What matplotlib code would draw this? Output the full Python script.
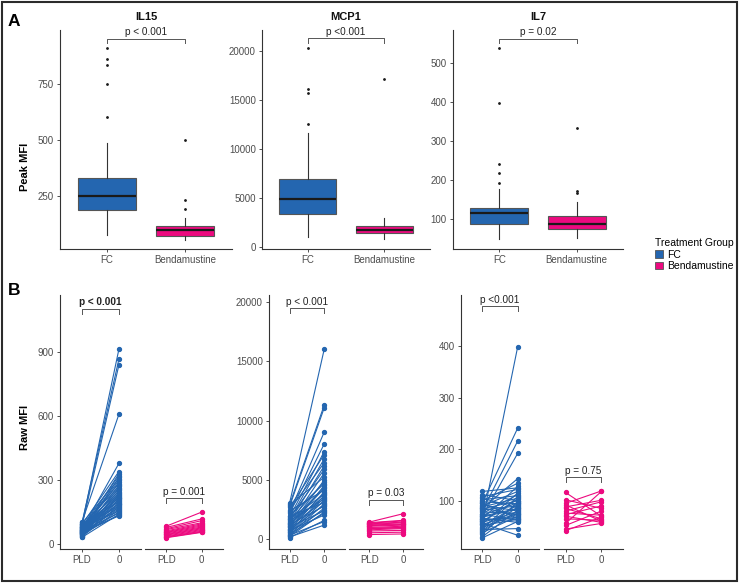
import numpy as np
import matplotlib
matplotlib.use("Agg")
import matplotlib.pyplot as plt
from matplotlib.patches import Patch, Rectangle

plt.rcParams['font.family'] = ['Liberation Sans', 'DejaVu Sans']

W, H = 739, 583
BLUE = '#2466B0'
PINK = '#EC0A7F'
GREY_TXT = '#4D4D4D'
SPINE = '#333333'

### Panel A data: peak MFI box stats (IL15, MCP1, IL7)
cytokines = ['IL15', 'MCP1', 'IL7']
groups = ['FC', 'Bendamustine']
peak_pvals = ['p < 0.001', 'p <0.001', 'p = 0.02']

fc_med = [251, 4867, 115]
fc_q1 = [188, 3306, 88]
fc_q3 = [329, 6908, 128]
fc_wlo = [76, 1020, 49]
fc_whi = [485, 11571, 177]
fc_out = [[909, 860, 833, 751, 604], [20245, 16092, 15714, 12520], [536, 397, 241, 217, 193]]

bm_med = [98, 1704, 88]
bm_q1 = [71, 1367, 75]
bm_q3 = [116, 2143, 109]
bm_wlo = [54, 755, 52]
bm_whi = [150, 2898, 145]
bm_out = [[500, 232, 192], [17112], [332, 172, 166]]

peak_yticks = [[250, 500, 750], [0, 5000, 10000, 15000, 20000], [100, 200, 300, 400, 500]]
peak_ylim = [(13, 991), (-235, 22112), (24, 583)]

### Panel B data: raw MFI at PLD and day 0 (paired)
timepoints = ['PLD', '0']
raw_pvals_fc = ['p < 0.001', 'p < 0.001', 'p <0.001']
raw_pvals_bm = ['p = 0.001', 'p = 0.03', 'p = 0.75']

il15_fc_pld = [95, 102, 88, 105, 70, 92, 60, 80, 55, 98, 75, 66, 85, 50, 90, 62, 72, 45, 82, 58, 68, 40,
               78, 52, 64, 86, 48, 74, 56, 94, 42, 70, 60, 35, 80, 46, 66, 54, 38, 76, 44, 62, 32, 50, 58]
il15_fc_d0 = [913, 866, 839, 608, 378, 340, 330, 320, 312, 305, 298, 290, 283, 276, 270, 264, 258, 252,
              246, 240, 235, 230, 226, 222, 218, 214, 210, 206, 202, 198, 194, 190, 186, 182, 178, 174,
              170, 165, 160, 155, 150, 145, 140, 136, 132]
il15_bm_pld = [84, 78, 72, 68, 62, 58, 55, 52, 48, 45, 42, 38, 35, 32, 30]
il15_bm_d0 = [150, 118, 110, 100, 95, 90, 85, 80, 76, 72, 68, 64, 60, 57, 55]

mcp1_fc_pld = [3100, 2950, 2800, 2300, 2200, 1900, 2700, 1700, 2500, 1500, 1800, 1300, 2900, 1100,
               1600, 2000, 900, 1400, 1200, 2400, 800, 1000, 1750, 600, 1350, 700, 1550, 500, 1150,
               1950, 400, 850, 1250, 300, 650, 1050, 250, 450, 750, 150, 350, 200]
mcp1_fc_d0 = [16050, 11330, 11100, 9050, 8050, 7400, 7150, 6800, 6450, 6200, 5900, 5600, 5250, 5000,
              4850, 4700, 4550, 4400, 4300, 4150, 4000, 3900, 3800, 3700, 3600, 3500, 3400, 3300, 3200,
              3100, 3000, 2900, 2800, 2650, 2500, 2400, 2300, 2200, 2050, 1600, 1500, 1200]
mcp1_bm_pld = [1450, 1400, 1350, 1300, 1250, 1200, 1150, 1100, 1000, 950, 900, 800, 700, 550, 400]
mcp1_bm_d0 = [2150, 1600, 1550, 1450, 1400, 1300, 1250, 1200, 1100, 1000, 950, 900, 750, 600, 450]

il7_fc_pld = [60, 95, 80, 70, 85, 100, 65, 118, 108, 90, 55, 75, 102, 45, 88, 60, 112, 35, 72, 98, 50,
              82, 40, 105, 68, 30, 92, 58, 78, 48, 86, 38, 62, 95, 52, 74, 28, 66, 44, 56, 84, 42, 70, 54, 64]
il7_fc_d0 = [399, 241, 216, 192, 143, 134, 128, 125, 122, 118, 115, 112, 110, 108, 105, 103, 100, 98,
             96, 94, 92, 90, 88, 86, 84, 82, 80, 78, 76, 74, 72, 70, 68, 66, 64, 62, 60, 58, 46, 33,
             100, 95, 85, 75, 65]
il7_bm_pld = [116, 102, 95, 92, 88, 85, 80, 76, 73, 70, 65, 56, 52, 45, 42]
il7_bm_d0 = [70, 85, 119, 60, 101, 65, 98, 72, 90, 58, 62, 118, 80, 56, 68]

raw_fc = [(il15_fc_pld, il15_fc_d0), (mcp1_fc_pld, mcp1_fc_d0), (il7_fc_pld, il7_fc_d0)]
raw_bm = [(il15_bm_pld, il15_bm_d0), (mcp1_bm_pld, mcp1_bm_d0), (il7_bm_pld, il7_bm_d0)]
raw_yticks = [[0, 300, 600, 900], [0, 5000, 10000, 15000, 20000], [100, 200, 300, 400]]
raw_ylim = [(-23, 1167), (-818, 20600), (6.4, 499)]


def rect(x0, y0, x1, y1):
    return [x0 / W, 1 - y1 / H, (x1 - x0) / W, (y1 - y0) / H]


def style_ax(ax, left=True):
    for s in ['top', 'right']:
        ax.spines[s].set_visible(False)
    ax.spines['left'].set_visible(left)
    for s in ['left', 'bottom']:
        ax.spines[s].set_color(SPINE)
        ax.spines[s].set_linewidth(0.8)
    ax.tick_params(axis='both', length=2.5, width=0.6, color=SPINE, labelcolor=GREY_TXT,
                   labelsize=7, pad=2)
    if not left:
        ax.tick_params(axis='y', left=False, labelleft=False)


def bracket(ax, x1, x2, y, tick, label, bold=False):
    ax.plot([x1, x1, x2, x2], [y - tick, y, y, y - tick], color='#555555', lw=0.7, clip_on=False)
    ax.annotate(label, xy=((x1 + x2) / 2, y), xytext=(0, 1), textcoords='offset points',
                ha='center', va='bottom', fontsize=7.2, color='#222222',
                fontweight='bold' if bold else 'normal', annotation_clip=False)


fig = plt.figure(figsize=(W / 100, H / 100), dpi=100)

### Panel A
a_rects = [(60, 30, 232, 249), (262, 30, 430, 249), (453, 30, 623, 249)]
for i, name in enumerate(cytokines):
    ax = fig.add_axes(rect(*a_rects[i]))
    stats = [
        dict(med=fc_med[i], q1=fc_q1[i], q3=fc_q3[i], whislo=fc_wlo[i], whishi=fc_whi[i], fliers=fc_out[i]),
        dict(med=bm_med[i], q1=bm_q1[i], q3=bm_q3[i], whislo=bm_wlo[i], whishi=bm_whi[i], fliers=bm_out[i]),
    ]
    bp = ax.bxp(stats, positions=[1, 2], widths=0.75, patch_artist=True, showcaps=False,
                boxprops=dict(edgecolor='#555555', linewidth=0.8),
                whiskerprops=dict(color='#333333', linewidth=0.8),
                medianprops=dict(color='#1a1a1a', linewidth=1.6),
                flierprops=dict(marker='o', markersize=1.0, markerfacecolor='#1a1a1a',
                                markeredgecolor='#1a1a1a'))
    for patch, c in zip(bp['boxes'], [BLUE, PINK]):
        patch.set_facecolor(c)
    ax.set_xlim(0.4, 2.6)
    ax.set_ylim(*peak_ylim[i])
    ax.set_yticks(peak_yticks[i])
    ax.set_xticks([1, 2])
    ax.set_xticklabels(groups)
    style_ax(ax)
    rng = peak_ylim[i][1] - peak_ylim[i][0]
    top = max(fc_out[i] + bm_out[i])
    bracket(ax, 1, 2, top + 0.045 * rng, 0.022 * rng, peak_pvals[i])
    ax.set_title(name, fontsize=8, fontweight='bold', pad=7, color='#111111')

### Panel B
b_rects = [((60, 295, 141, 549), (145, 295, 223, 549)),
           ((269, 295, 345, 549), (349, 295, 423, 549)),
           ((461, 295, 539, 549), (544, 295, 623, 549))]
for i in range(3):
    r1, r2 = b_rects[i]
    ax1 = fig.add_axes(rect(*r1))
    ax2 = fig.add_axes(rect(*r2), sharey=ax1)
    rng = raw_ylim[i][1] - raw_ylim[i][0]
    for ax, (pld, d0), c, lab, frac, left in [
            (ax1, raw_fc[i], BLUE, raw_pvals_fc[i], 0.16, True),
            (ax2, raw_bm[i], PINK, raw_pvals_bm[i], 0.055, False)]:
        for a, b in zip(pld, d0):
            ax.plot([1, 2], [a, b], color=c, lw=0.8, marker='o', markersize=2.8)
        ax.set_xlim(0.4, 2.6)
        ax.set_xticks([1, 2])
        ax.set_xticklabels(timepoints)
        style_ax(ax, left=left)
        top = max(max(pld), max(d0))
        bracket(ax, 1, 2, top + frac * rng, 0.02 * rng, lab, bold=(i == 0 and left))
    ax1.set_ylim(*raw_ylim[i])
    ax1.set_yticks(raw_yticks[i])

### labels, legend, frame
fig.text(8 / W, 1 - 21 / H, 'A', fontsize=12.5, fontweight='bold', va='center')
fig.text(8 / W, 1 - 291 / H, 'B', fontsize=12.5, fontweight='bold', va='center')
fig.text(25 / W, 1 - 167 / H, 'Peak MFI', fontsize=8, fontweight='bold', rotation=90,
         ha='center', va='center')
fig.text(25 / W, 1 - 427 / H, 'Raw MFI', fontsize=8, fontweight='bold', rotation=90,
         ha='center', va='center')

handles = [Patch(facecolor=BLUE, edgecolor='#555555', lw=0.6),
           Patch(facecolor=PINK, edgecolor='#555555', lw=0.6)]
fig.legend(handles, groups, title='Treatment Group', loc='upper left',
           bbox_to_anchor=(650 / W, 1 - 233 / H), frameon=False, fontsize=7.5, title_fontsize=7.5,
           handlelength=0.7, handleheight=0.7, handletextpad=0.4, labelspacing=0.15,
           borderpad=0, alignment='left')

fig.add_artist(Rectangle((0.003, 0.003), 0.994, 0.994, transform=fig.transFigure,
                         fill=False, edgecolor='#2b2b2b', lw=1.5))

fig.savefig('out.png', dpi=100)
